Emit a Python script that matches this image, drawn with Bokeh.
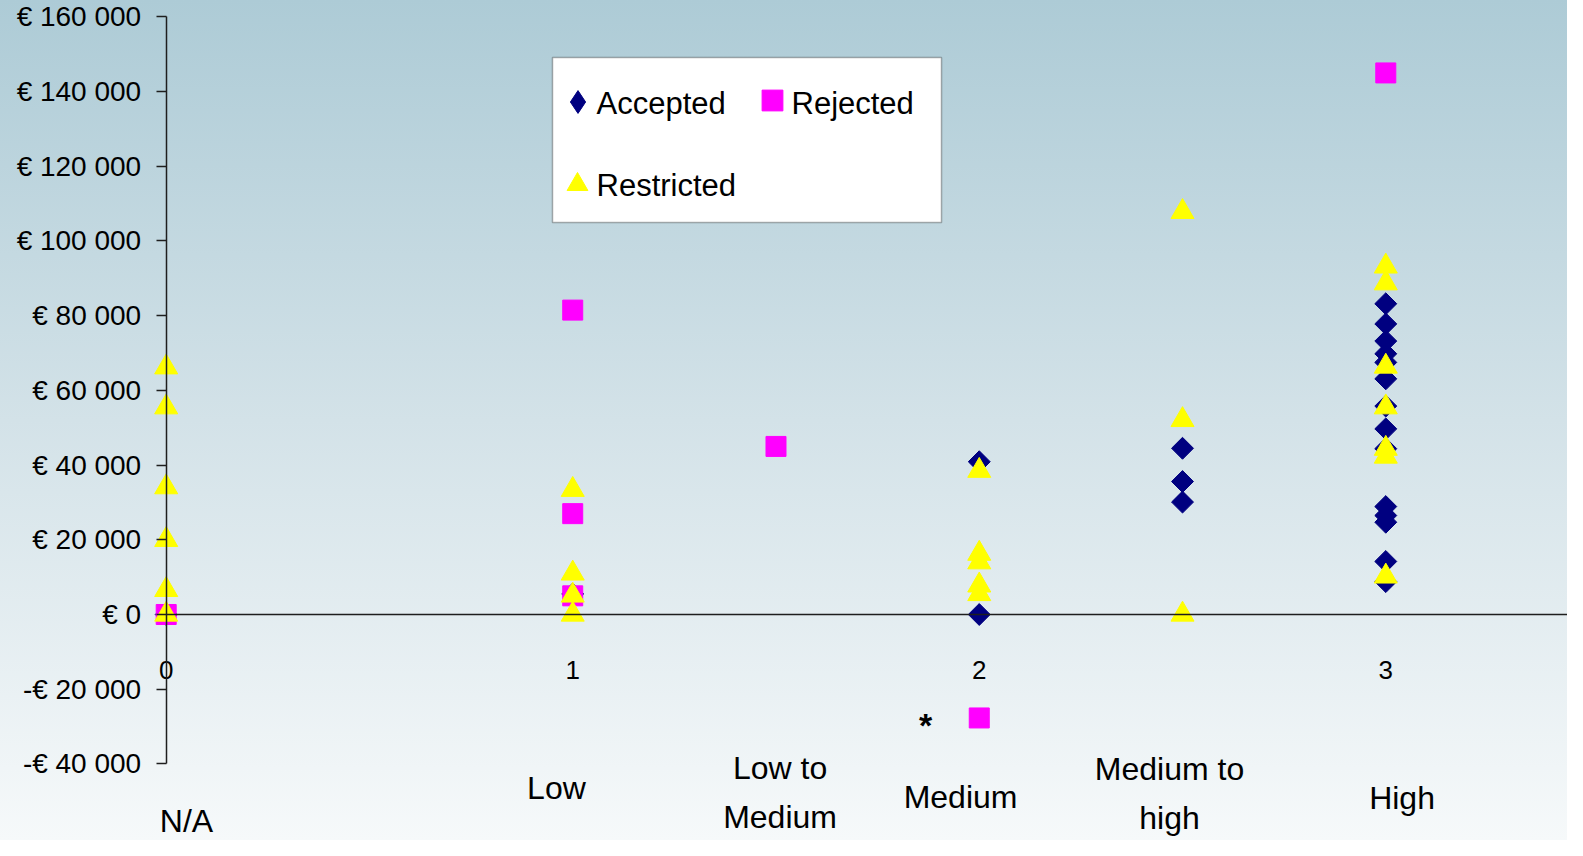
import math
from bokeh.plotting import figure
from bokeh.models import (LinearAxis, FixedTicker, Legend, LegendItem, Range1d,
                          BoxAnnotation, Label)
from bokeh.core.properties import value
from bokeh.embed import file_html
from bokeh.resources import INLINE

# ---- data ----
accepted_x = [0, 1, 2, 2, 2.5, 2.5, 2.5,
              3, 3, 3, 3, 3, 3, 3, 3, 3, 3, 3, 3, 3, 3]
accepted_y = [0, 5500, 40900, 0, 44500, 35600, 30100,
              83200, 77800, 73200, 69800, 67500, 63100, 55800, 49700, 44400,
              28900, 26500, 24700, 14200, 8800]

rejected_x = [0, 1, 1, 1, 1.5, 2, 3]
rejected_y = [0, 81500, 27000, 5000, 45000, -27700, 145000]

restricted_x = [0, 0, 0, 0, 0, 0,
                1, 1, 1, 1,
                2, 2, 2, 2, 2,
                2.5, 2.5, 2.5,
                3, 3, 3, 3, 3, 3, 3]
restricted_y = [66200, 55500, 34100, 20000, 6600, 0,
                33400, 11000, 5100, 0,
                38500, 16300, 14000, 7800, 5500,
                107800, 52100, 0,
                93200, 88700, 66400, 55500, 44400, 42300, 10200]

series_names = ["Accepted", "Rejected", "Restricted"]

y_ticks = [-40000, -20000, 0, 20000, 40000, 60000, 80000, 100000, 120000, 140000, 160000]
x_ticks = [0, 1, 2, 3]

cat_names = ["N/A", "Low", "Low to\nMedium", "Medium", "Medium to\nhigh", "High"]
cat_x = [0.05, 0.96, 1.51, 1.954, 2.468, 3.04]
cat_y = [-55410, -46580, -47650, -48990, -47910, -49260]

note_text = ["*"]
note_x = [1.868]
note_y = [-29700]

FONT = "Liberation Sans"
H = 840

def euro(v):
    s = f"{abs(v):,}".replace(",", " ")
    return ("-" if v < 0 else "") + "€ " + s

x_start, x_end = -0.4076, 3.447
p = figure(width=1567, height=H, output_backend="svg", toolbar_location=None,
           x_range=Range1d(x_start, x_end), y_range=Range1d(-60509, 164391),
           x_axis_type=None, y_axis_type=None, min_border=0,
           background_fill_color=None, border_fill_color=None,
           outline_line_color=None)
p.styles = {"background": "linear-gradient(180deg, #adcbd6 0%, #d3e2e8 50%, #f6f9fa 100%)"}

# y axis crossing at x = 0
yax = LinearAxis(fixed_location=0, bounds=(min(y_ticks), max(y_ticks)),
                 ticker=FixedTicker(ticks=y_ticks),
                 major_label_overrides={t: euro(t) for t in y_ticks})
yax.major_tick_out = 10
yax.major_tick_in = 0
yax.minor_tick_out = 0
yax.minor_tick_in = 0
yax.major_label_standoff = 15
yax.axis_line_color = "#1e1e1e"
yax.axis_line_width = 1.5
yax.major_tick_line_color = "#1e1e1e"
yax.major_tick_line_width = 1.5
yax.major_label_text_font = FONT
yax.major_label_text_font_size = "28px"
yax.major_label_text_color = "black"
p.add_layout(yax, "left")

# x axis crossing at y = 0
xax = LinearAxis(fixed_location=0, bounds=(0, x_end),
                 ticker=FixedTicker(ticks=x_ticks))
xax.major_tick_out = 0
xax.major_tick_in = 0
xax.minor_tick_out = 0
xax.minor_tick_in = 0
xax.major_label_standoff = 47
xax.axis_line_color = "#1e1e1e"
xax.axis_line_width = 1.5
xax.major_label_text_font = FONT
xax.major_label_text_font_size = "26px"
xax.major_label_text_color = "black"
p.add_layout(xax, "below")

r_acc = p.scatter(accepted_x, accepted_y, marker="square", size=15.5, angle=math.pi / 4,
                  fill_color="#000080", line_color="#000080")
r_rej = p.scatter(rejected_x, rejected_y, marker="square", size=20,
                  fill_color="#FF00FF", line_color="#FF00FF")
r_res = p.scatter(restricted_x, restricted_y, marker="triangle", size=23,
                  fill_color="#FFFF00", line_color="#FFFF00")
# hidden twin used only for the legend swatch (legend swatches are drawn unrotated)
r_acc_key = p.scatter(accepted_x, accepted_y, marker="diamond", size=23,
                      fill_color="#000080", line_color="#000080", visible=False)

p.text(x=cat_x, y=cat_y, text=cat_names, text_font=value(FONT), text_font_size="32px",
       text_align="center", text_baseline="middle", text_line_height=1.37, text_color="black")
p.text(x=note_x, y=note_y, text=note_text, text_font=value(FONT), text_font_size="34px",
       text_font_style="bold", text_align="center", text_baseline="middle", text_color="black")

# legend frame (screen units, measured from the bottom of the frame)
box_left, box_right, box_top, box_bottom = 552, 941, 57, 222
p.add_layout(BoxAnnotation(left=box_left, right=box_right,
                           top=H - box_top, bottom=H - box_bottom,
                           left_units="screen", right_units="screen",
                           top_units="screen", bottom_units="screen",
                           fill_color="white", fill_alpha=1.0,
                           line_color="black", line_width=1.5))

# legend swatches (one single-item legend each) and their labels
entries = [
    # renderer, glyph box, swatch centre x, swatch centre y (from top), label x, label y
    (r_acc_key, 57, 577, 101.7, 596, 102.5),
    (r_rej, 52, 771.5, 100.3, 791, 102.5),
    (r_res, 52, 577, 183.7, 596, 184.5),
]
for name, (rend, g, cx, cy, lx, ly) in zip(series_names, entries):
    lg = Legend(items=[LegendItem(label=" ", renderers=[rend])],
                location=(cx - g / 2, H - (cy + g / 2)))
    lg.glyph_width = g
    lg.glyph_height = g
    lg.label_height = g
    lg.label_standoff = 0
    lg.padding = 0
    lg.margin = 0
    lg.spacing = 0
    lg.label_text_font_size = "1px"
    lg.border_line_color = None
    lg.background_fill_alpha = 0.0
    p.add_layout(lg)
    p.add_layout(Label(x=lx, y=H - ly, x_units="screen", y_units="screen", text=name,
                       text_font=FONT, text_font_size="31px", text_color="black",
                       text_align="left", text_baseline="middle"))

open("out.html", "w").write(file_html(p, INLINE))
